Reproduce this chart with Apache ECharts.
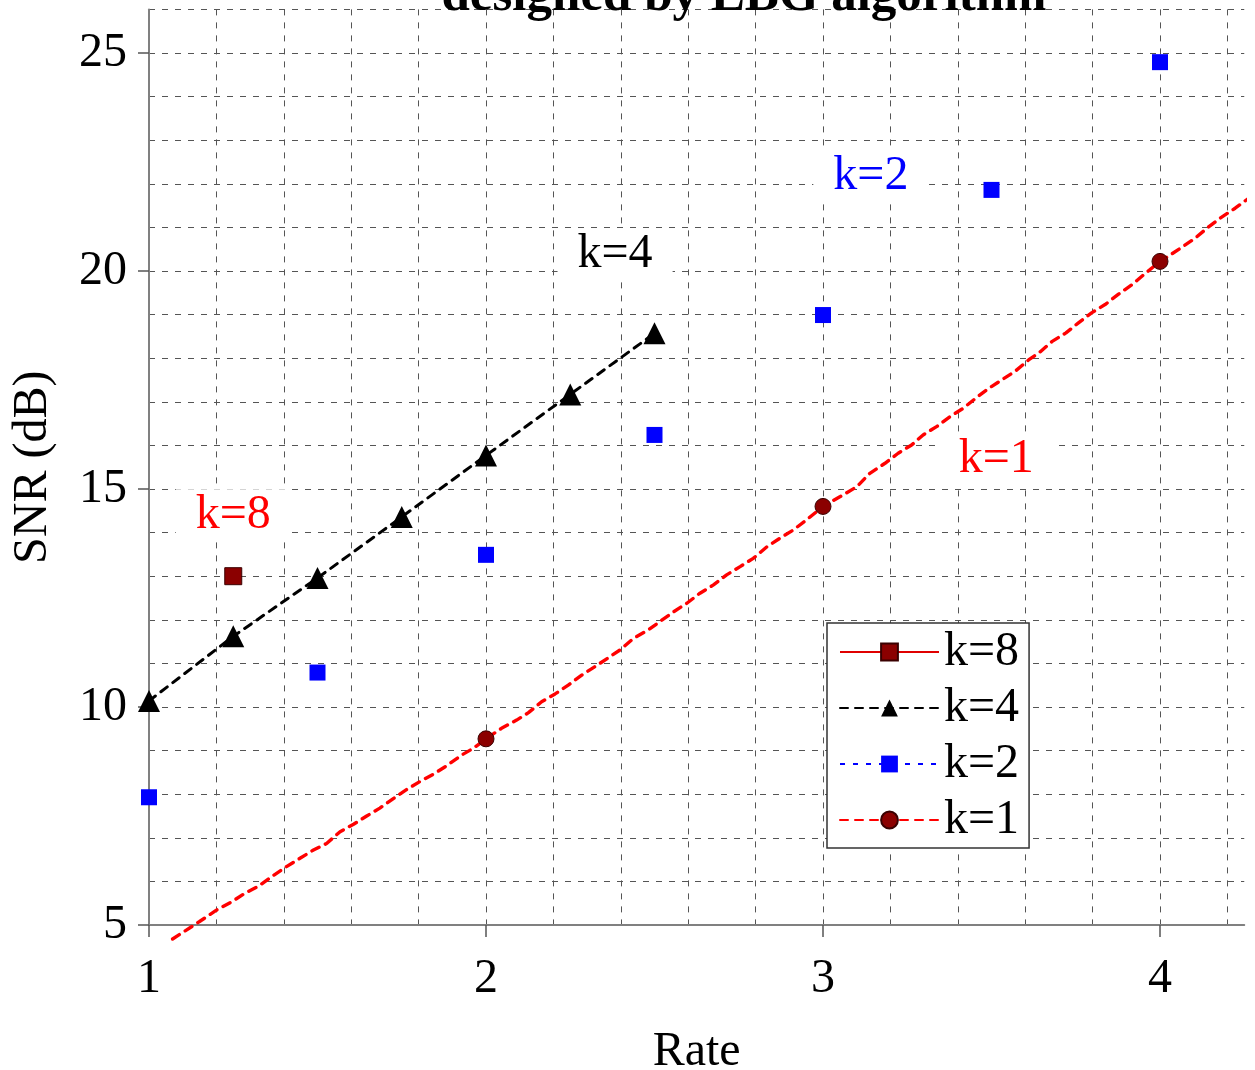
<!DOCTYPE html>
<html><head><meta charset="utf-8">
<script src="https://cdn.jsdelivr.net/npm/echarts@6/dist/echarts.min.js"></script>
<style>html,body{margin:0;padding:0;background:#fff}#c{width:1255px;height:1070px}</style>
</head><body><div id="c"></div>
<script>
// ---- data ----
const titleText = 'designed by LBG algorithm';
const xName = 'Rate';
const yName = 'SNR (dB)';
const xTickLabels = [1, 2, 3, 4];
const yTickLabels = [5, 10, 15, 20, 25];
const seriesNames = ['k=8', 'k=4', 'k=2', 'k=1'];

const k8X = [1.25];
const k8Y = [13.0];

const k4X = [1, 1.25, 1.5, 1.75, 2, 2.25, 2.5];
const k4Y = [10.14, 11.62, 12.96, 14.36, 15.77, 17.17, 18.57];

const k2X = [1, 1.5, 2, 2.5, 3, 3.5, 4];
const k2Y = [7.93, 10.79, 13.49, 16.24, 18.99, 21.86, 24.79];

const k1X = [2, 3, 4];
const k1Y = [9.27, 14.6, 20.22];

const k1LineX = [1.07, 1.15, 1.2, 1.245, 1.285, 1.325, 1.364, 1.408, 1.448, 1.488, 1.527, 1.567, 1.607, 1.646,
  1.685, 1.725, 1.765, 1.804, 1.844, 1.883, 1.928, 1.962, 2, 2.046, 2.091, 2.126, 2.165, 2.205, 2.244, 2.284,
  2.33, 2.398, 2.437, 2.482, 2.516, 2.556, 2.596, 2.635, 2.675, 2.714, 2.754, 2.793, 2.833, 2.872, 2.912, 2.951,
  3, 3.05, 3.1, 3.139, 3.184, 3.223, 3.263, 3.297, 3.337, 3.377, 3.416, 3.456, 3.49, 3.53, 3.57, 3.61, 3.645,
  3.679, 3.721, 3.758, 3.797, 3.837, 3.877, 3.916, 3.951, 4, 4.025, 4.064, 4.104, 4.139, 4.178, 4.223, 4.26];
const k1LineY = [4.68, 5.08, 5.34, 5.53, 5.73, 5.89, 6.11, 6.34, 6.53, 6.72, 6.87, 7.14, 7.31, 7.5,
  7.68, 7.9, 8.11, 8.29, 8.46, 8.65, 8.9, 9.05, 9.27, 9.51, 9.7, 9.87, 10.12, 10.3, 10.5, 10.73,
  10.96, 11.31, 11.57, 11.77, 11.96, 12.18, 12.38, 12.61, 12.8, 13.03, 13.22, 13.41, 13.67, 13.87, 14.06, 14.29,
  14.6, 14.82, 15.05, 15.36, 15.59, 15.82, 16.01, 16.24, 16.43, 16.66, 16.85, 17.1, 17.3, 17.5, 17.7, 17.96, 18.15,
  18.38, 18.58, 18.81, 19.04, 19.23, 19.47, 19.68, 19.91, 20.22, 20.34, 20.54, 20.75, 20.98, 21.21, 21.44, 21.65];

const noteText = ['k=8', 'k=4', 'k=2', 'k=1'];
const noteX = [1.25, 2.383, 3.142, 3.514];
const noteY = [14.4, 20.39, 22.18, 15.67];

// ---- chart ----
const serif = '"Liberation Serif", "Times New Roman", serif';
const noteColors = { 'k=8': '#ff0000', 'k=4': '#000000', 'k=2': '#0000ff', 'k=1': '#ff0000' };
const zip = (xs, ys) => xs.map((x, i) => [x, ys[i]]);

const k1Data = k1LineX.map((x, i) => {
  const j = k1X.findIndex(v => Math.abs(v - x) < 1e-9);
  return j >= 0 ? { value: [x, k1Y[j]] } : { value: [x, k1LineY[i]], symbol: 'none' };
});

const gridLine = { show: true, lineStyle: { color: '#555', width: 1, type: [6, 7] } };
const FS = 48;
const labelFont = { fontFamily: serif, fontSize: FS, color: '#000' };

const chart = echarts.init(document.getElementById('c'), null, { renderer: 'canvas' });
chart.setOption({
  animation: false,
  backgroundColor: '#fff',
  textStyle: { fontFamily: serif },
  grid: { left: 149, right: 10.75, top: 9.4, bottom: 145, containLabel: false, outerBoundsMode: 'none' },
  graphic: [{
    type: 'text', x: 744, y: -3, z: 100,
    style: { text: titleText, font: 'bold 51px ' + serif, fill: '#000', align: 'center', verticalAlign: 'middle' }
  }],
  legend: {
    data: [
      { name: seriesNames[0] },
      { name: seriesNames[1] },
      { name: seriesNames[2], lineStyle: { opacity: 1 } },
      { name: seriesNames[3] }
    ],
    orient: 'vertical', left: 827, top: 623, align: 'left',
    padding: [5, 10, 4, 12], itemGap: 8, itemWidth: 99, itemHeight: 21,
    backgroundColor: '#fff', borderColor: '#333', borderWidth: 1.5, borderRadius: 0,
    textStyle: { fontFamily: serif, fontSize: FS, lineHeight: 46, color: '#000' },
    selectedMode: false
  },
  xAxis: [
    { // grid lines every 0.2
      type: 'value', min: 1, max: 4.25, interval: 0.2, position: 'bottom',
      axisLine: { show: true, onZero: false, lineStyle: { color: '#808080', width: 2 } },
      axisTick: { show: false }, axisLabel: { show: false },
      splitLine: Object.assign({ showMaxLine: false }, gridLine)
    },
    { // labels and ticks
      type: 'value', min: 1, max: 4.25, interval: 1, position: 'bottom',
      name: xName, nameLocation: 'middle', nameGap: 103, nameTextStyle: labelFont,
      axisLine: { show: false, onZero: false },
      axisTick: { show: true, customValues: xTickLabels, length: 12, lineStyle: { color: '#555', width: 1.5 } },
      axisLabel: Object.assign({ show: true, customValues: xTickLabels, margin: 30 }, labelFont),
      splitLine: { show: false }
    }
  ],
  yAxis: [
    {
      type: 'value', min: 5, max: 26, interval: 1, position: 'left',
      axisLine: { show: true, onZero: false, lineStyle: { color: '#808080', width: 2 } },
      axisTick: { show: false }, axisLabel: { show: false },
      splitLine: gridLine
    },
    {
      type: 'value', min: 5, max: 26, interval: 5, position: 'left',
      name: yName, nameLocation: 'middle', nameGap: 92, nameRotate: 90, nameTextStyle: labelFont,
      axisLine: { show: false, onZero: false },
      axisTick: { show: true, customValues: yTickLabels, length: 11, lineStyle: { color: '#555', width: 1.5 } },
      axisLabel: Object.assign({ show: true, customValues: yTickLabels, margin: 22 }, labelFont),
      splitLine: { show: false }
    }
  ],
  series: [
    {
      name: seriesNames[0], type: 'line', data: zip(k8X, k8Y), z: 5,
      symbol: 'rect', symbolSize: 17,
      itemStyle: { color: '#8b0000', borderColor: '#3a0000', borderWidth: 1 },
      lineStyle: { color: '#e00000', width: 3, type: 'solid' }
    },
    {
      name: seriesNames[1], type: 'line', data: zip(k4X, k4Y), z: 5,
      symbol: 'triangle', symbolSize: 22,
      itemStyle: { color: '#000' },
      lineStyle: { color: '#000', width: 3, type: [8, 7], cap: 'round' }
    },
    {
      name: seriesNames[2], type: 'line', data: zip(k2X, k2Y), z: 5,
      symbol: 'rect', symbolSize: 16,
      itemStyle: { color: '#0000ff' },
      lineStyle: { color: '#0000ff', width: 1, type: [5, 8], opacity: 0 }
    },
    {
      name: seriesNames[3], type: 'line', data: k1Data, z: 5, clip: false,
      symbol: 'circle', symbolSize: 16, showAllSymbol: true,
      itemStyle: { color: '#8b0000', borderColor: '#3a0000', borderWidth: 1 },
      lineStyle: { color: '#ff0000', width: 3.4, type: [8, 7], cap: 'round' }
    },
    {
      name: 'notes', type: 'scatter', z: 4, symbolSize: 1,
      itemStyle: { color: 'rgba(0,0,0,0)', opacity: 1 },
      data: noteText.map((t, i) => ({
        name: t, value: [noteX[i], noteY[i]],
        label: { color: noteColors[t] }
      })),
      label: {
        show: true, position: 'inside', formatter: '{b}',
        fontFamily: serif, fontSize: FS, backgroundColor: '#fff', padding: [2, 20]
      },
      silent: true
    }
  ]
});
</script>
</body></html>
